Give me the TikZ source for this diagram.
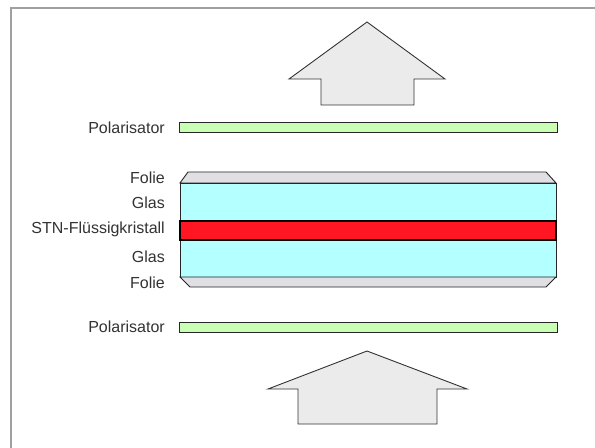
\documentclass[tikz,border=0pt]{standalone}
\usepackage{fontspec}
\setmainfont{Liberation Sans}
\definecolor{framegray}{HTML}{A0A0A0}
\definecolor{arrowfill}{HTML}{EBEBEB}
\definecolor{foliefill}{HTML}{E0E0E4}
\definecolor{glasfill}{HTML}{B4FFFF}
\definecolor{lcfill}{HTML}{FF1622}
\definecolor{polfill}{HTML}{C8FFB4}
\definecolor{labelcol}{HTML}{333333}
\begin{document}
\begin{tikzpicture}[x=1bp,y=-1bp,
  lbl/.style={anchor=east,inner sep=0pt,text=labelcol,font=\fontsize{16bp}{19bp}\selectfont},
  bigarrow/.style={draw=black!80,fill=arrowfill,line width=0.9bp,line join=miter},
  layer/.style={draw=black!85,line width=0.9bp},
  pol/.style={draw=black!85,fill=polfill,line width=1bp}]
\useasboundingbox (0,0) rectangle (595,448);
\fill[white] (0,0) rectangle (595,448);
% frame
\draw[framegray,line width=1.5bp] (11,448) -- (11,8) -- (595,8);
% top arrow
\draw[bigarrow] (367,22) -- (445,79) -- (414,79) -- (414,105) -- (321,105) -- (321,79) -- (289,79) -- cycle;
% polarisator top
\draw[pol] (179,123) rectangle (557,133);
% folie top
\draw[layer,fill=foliefill] (180,183) -- (188,172) -- (546,172) -- (556,183) -- cycle;
% glas top
\draw[layer,fill=glasfill] (180,183) rectangle (556,221);
% glas bottom
\draw[layer,fill=glasfill] (180,240) rectangle (556,277);
% folie bottom
\draw[layer,fill=foliefill] (180,277) -- (190,287) -- (546,287) -- (556,277) -- cycle;
% liquid crystal
\draw[draw=black,fill=lcfill,line width=1.3bp] (180,221) rectangle (556,240);
% polarisator bottom
\draw[pol] (179,322) rectangle (557,332);
% bottom arrow
\draw[bigarrow] (367,351) -- (467,389) -- (437,389) -- (437,424) -- (298,424) -- (298,389) -- (268,389) -- cycle;
% labels
\node[lbl] (p1) at (165,128) {Polarisator};
\node[lbl] (f1) at (165,178) {Folie};
\node[lbl] (g1) at (165,203) {Glas};
\node[lbl] (stn) at (165,229) {STN-Flüssigkristall};
\node[lbl] (g2) at (165,257) {Glas};
\node[lbl] (f2) at (165,283) {Folie};
\node[lbl] (p2) at (165,327) {Polarisator};
\end{tikzpicture}
\end{document}
